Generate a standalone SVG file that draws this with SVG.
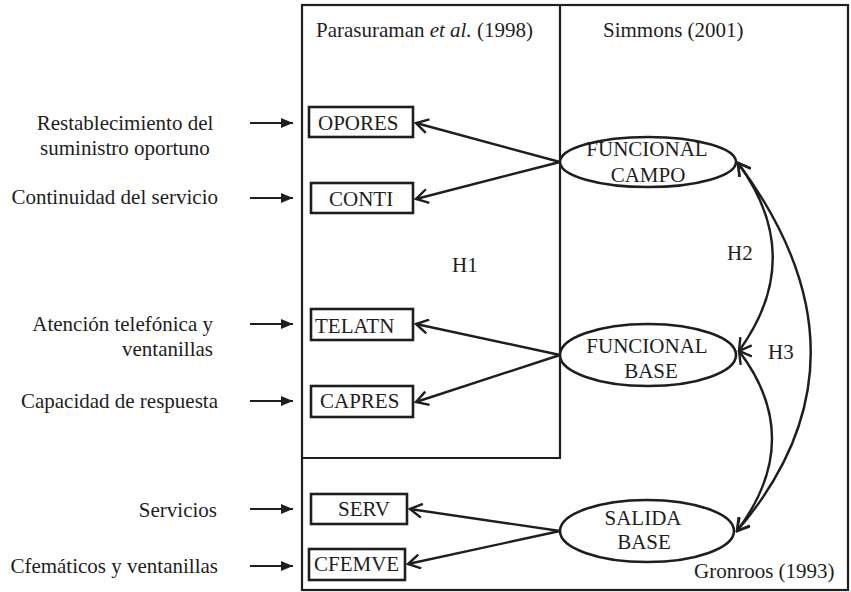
<svg xmlns="http://www.w3.org/2000/svg" width="851" height="592" viewBox="0 0 851 592">
<style>
text{font-family:"Liberation Serif","Times New Roman",serif;font-size:21px;fill:#1e1e1e}
.frame{fill:none;stroke:#1e1e1e;stroke-width:2.2}
.box{fill:#fff;stroke:#1e1e1e;stroke-width:2.6}
.ell{fill:#fff;stroke:#1e1e1e;stroke-width:2.6}
.c{fill:none;stroke:#1e1e1e;stroke-width:2.4}
.in{fill:none;stroke:#1e1e1e;stroke-width:2}
</style>
<defs>
<marker id="open" viewBox="0 0 16 16" refX="14" refY="8" markerWidth="16" markerHeight="16" markerUnits="userSpaceOnUse" orient="auto-start-reverse">
<path d="M2,1 L14,8 L2,15" fill="none" stroke="#1e1e1e" stroke-width="2.4"/>
</marker>
<marker id="solid" viewBox="0 0 12 10" refX="12" refY="5" markerWidth="12" markerHeight="10" markerUnits="userSpaceOnUse" orient="auto">
<path d="M0,0 L12,5 L0,10 Z" fill="#1e1e1e"/>
</marker>
</defs>
<g id="frames">
<rect class="frame" x="302" y="5" width="546" height="585"/>
<polyline class="frame" points="560,5 560,458 302,458"/>
<text x="316" y="37">Parasuraman <tspan font-style="italic">et al.</tspan> (1998)</text>
<text x="603" y="37">Simmons (2001)</text>
<text x="694" y="578">Gronroos (1993)</text>
<text x="452" y="272">H1</text>
<text x="727" y="260">H2</text>
<text x="768" y="359">H3</text>
</g>
<g id="inputs">
<text x="125" y="130" text-anchor="middle">Restablecimiento del</text>
<text x="125" y="155" text-anchor="middle">suministro oportuno</text>
<text x="218" y="204" text-anchor="end">Continuidad del servicio</text>
<text x="213" y="331" text-anchor="end">Atención telefónica y</text>
<text x="213" y="356" text-anchor="end">ventanillas</text>
<text x="218" y="408" text-anchor="end">Capacidad de respuesta</text>
<text x="217" y="517" text-anchor="end">Servicios</text>
<text x="218" y="573" text-anchor="end">Cfemáticos y ventanillas</text>
</g>
<g id="OPORES"><rect class="box" x="309" y="107" width="104" height="30"/><text x="318" y="130">OPORES</text></g>
<g id="CONTI"><rect class="box" x="311" y="183" width="102" height="30"/><text x="329" y="206">CONTI</text></g>
<g id="TELATN"><rect class="box" x="311" y="309" width="102" height="31"/><text x="315" y="333">TELATN</text></g>
<g id="CAPRES"><rect class="box" x="311" y="386" width="102" height="31"/><text x="320" y="408">CAPRES</text></g>
<g id="SERV"><rect class="box" x="311" y="494" width="96" height="30"/><text x="338" y="516">SERV</text></g>
<g id="CFEMVE"><rect class="box" x="309" y="549" width="96" height="31"/><text x="314" y="571">CFEMVE</text></g>
<g id="FUNCIONAL_CAMPO"><ellipse class="ell" cx="648" cy="162" rx="88" ry="25"/><text x="647" y="156" text-anchor="middle">FUNCIONAL</text><text x="648" y="182" text-anchor="middle">CAMPO</text></g>
<g id="FUNCIONAL_BASE"><ellipse class="ell" cx="648" cy="355" rx="88" ry="31"/><text x="647" y="353" text-anchor="middle">FUNCIONAL</text><text x="651" y="378" text-anchor="middle">BASE</text></g>
<g id="SALIDA_BASE"><ellipse class="ell" cx="647" cy="531" rx="87" ry="31"/><text x="643" y="525" text-anchor="middle">SALIDA</text><text x="644" y="549" text-anchor="middle">BASE</text></g>
<g id="connectors">
<line class="in" x1="250" y1="123" x2="293" y2="123" marker-end="url(#solid)"/>
<line class="in" x1="250" y1="198" x2="293" y2="198" marker-end="url(#solid)"/>
<line class="in" x1="250" y1="324" x2="293" y2="324" marker-end="url(#solid)"/>
<line class="in" x1="250" y1="401" x2="293" y2="401" marker-end="url(#solid)"/>
<line class="in" x1="250" y1="509" x2="293" y2="509" marker-end="url(#solid)"/>
<line class="in" x1="250" y1="566" x2="293" y2="566" marker-end="url(#solid)"/>
<line class="c" x1="560" y1="162" x2="416" y2="123" marker-end="url(#open)"/>
<line class="c" x1="560" y1="162" x2="416" y2="199" marker-end="url(#open)"/>
<line class="c" x1="560" y1="355" x2="416" y2="324" marker-end="url(#open)"/>
<line class="c" x1="560" y1="355" x2="416" y2="402" marker-end="url(#open)"/>
<line class="c" x1="560" y1="531" x2="410" y2="509" marker-end="url(#open)"/>
<line class="c" x1="560" y1="531" x2="408" y2="564" marker-end="url(#open)"/>
<path class="c" d="M738,163 Q807,257 739,351" marker-start="url(#open)" marker-end="url(#open)"/>
<path class="c" d="M738,163 Q884,359 737,531" marker-start="url(#open)" marker-end="url(#open)"/>
<path class="c" d="M739,351 Q806,439 737,531" marker-start="url(#open)" marker-end="url(#open)"/>
</g>
</svg>
